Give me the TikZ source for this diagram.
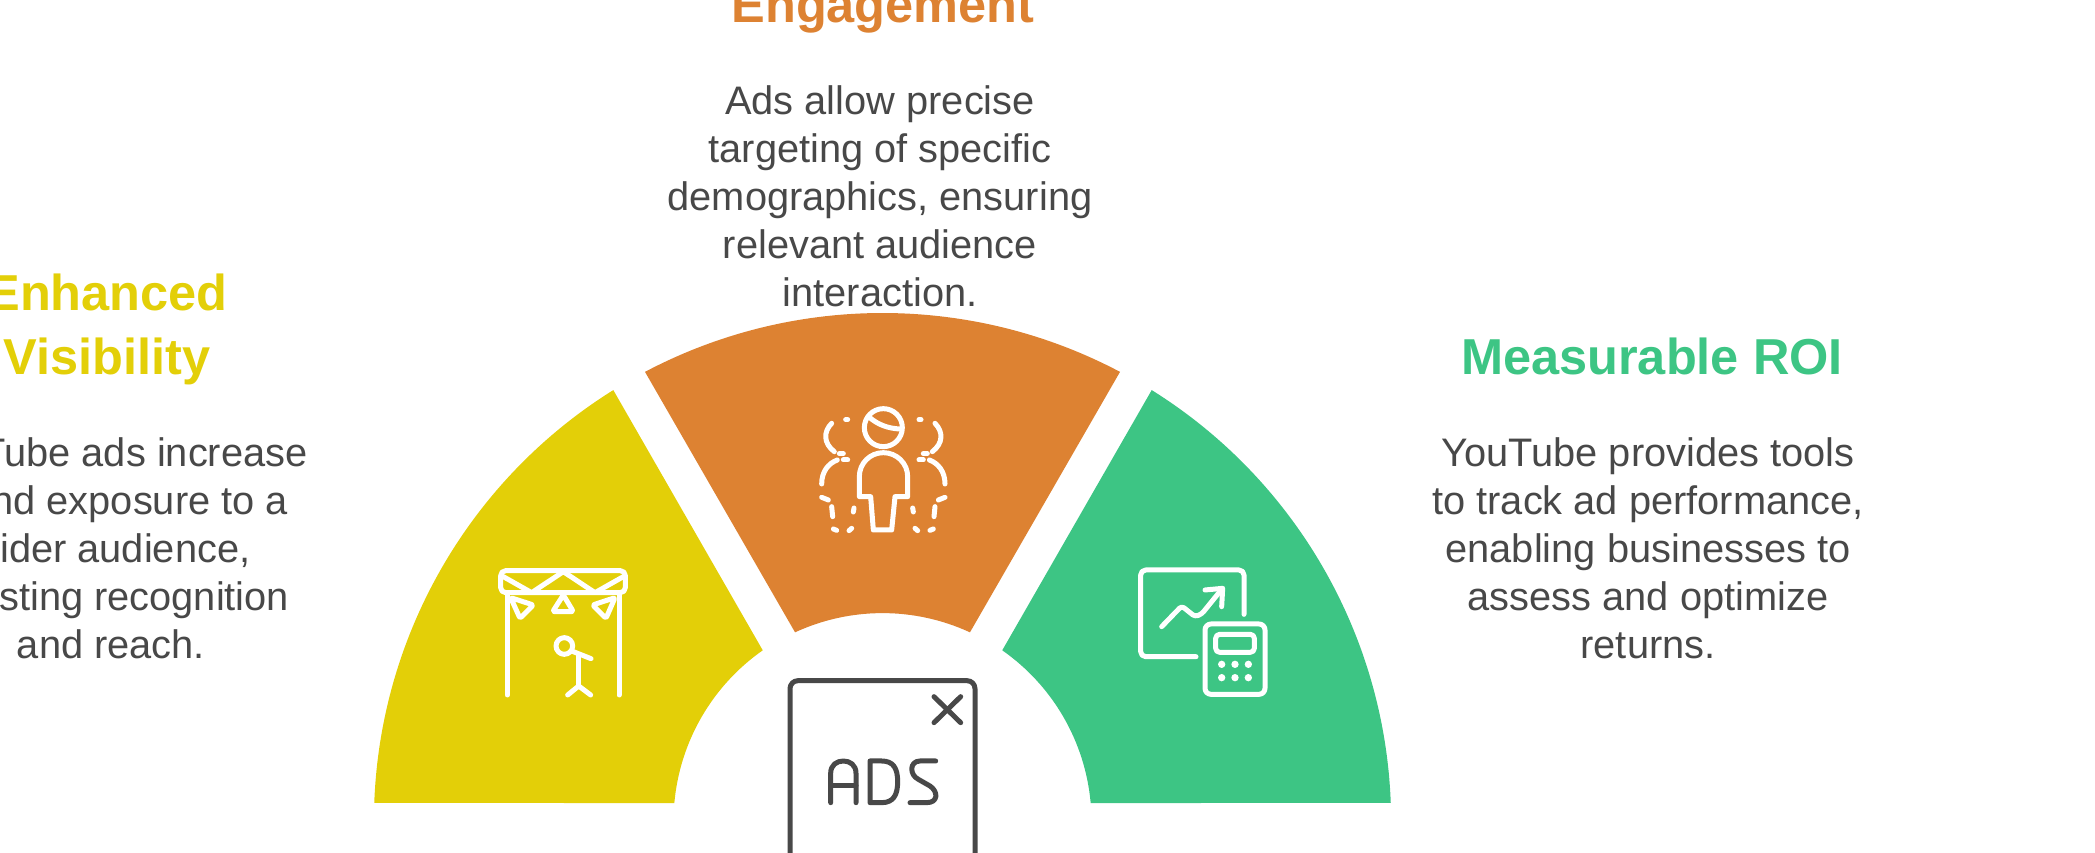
\documentclass[tikz,border=0pt]{standalone}
\usepackage{fontspec}
\setmainfont{Liberation Sans}
\definecolor{cyel}{HTML}{E3CF08}
\definecolor{cora}{HTML}{DD8232}
\definecolor{cgrn}{HTML}{3DC584}
\definecolor{ctxt}{HTML}{484848}
\tikzset{
  ico/.style={draw=white,line width=5pt,line cap=round,line join=round},
  adsico/.style={draw=ctxt,line width=5pt,line cap=round,line join=round},
  bodytxt/.style={text=ctxt,align=center,inner sep=0pt,font=\fontsize{39.8}{48}\selectfont},
  headtxt/.style={align=center,inner sep=0pt,font=\fontsize{50.5}{64}\selectfont\bfseries},
}
\newcommand{\orangehalf}{
  \draw[ico] (197,119)--(203,119);
  \draw[ico] (155,130) .. controls (130,155) and (130,190) .. (163,215);
  \draw[ico] (178,221)--(190,221);
  \draw[ico] (190,240)--(203,240);
  \draw[ico] (172,240) .. controls (145,250) and (125,275) .. (125,312);
  \draw[ico] (125,352)--(145,360);
  \draw[ico] (155,380)--(158,410);
  \draw[ico] (222,384)--(220,396);
  \draw[ico] (160,447)--(170,451);
  \draw[ico] (215,445)--(207,452);
}
\begin{document}
\begin{tikzpicture}[x=1pt,y=1pt]
\useasboundingbox (0,0) rectangle (2095,853);
\clip (0,0) rectangle (2095,853);
% wedges
\begin{scope}[shift={(882.5,31.4)}]
  \fill[cyel] (177.9:508.6) arc[start angle=177.9,end angle=121.96,radius=508.6] -- (124.96:209) arc[start angle=124.96,end angle=174.9,radius=209] -- cycle;
  \fill[cora] (117.84:508.6) arc[start angle=117.84,end angle=62.16,radius=508.6] -- (65.2:208.5) arc[start angle=65.2,end angle=114.8,radius=208.5] -- cycle;
  \fill[cgrn] (2.1:508.6) arc[start angle=2.1,end angle=58.04,radius=508.6] -- (55.04:209) arc[start angle=55.04,end angle=5.1,radius=209] -- cycle;
\end{scope}
% orange icon
\begin{scope}[shift={(780,473)},yscale=-1,scale=1/3]
  \draw[ico] (310,143) circle[radius=57];
  \draw[ico] (268,112) .. controls (295,135) and (325,145) .. (358,147);
  \draw[ico] (238,350) -- (238,290) .. controls (238,250) and (270,218) .. (310,218) .. controls (350,218) and (383,250) .. (383,290) -- (383,350) -- (345,350) -- (335,450) -- (280,450) -- (272,350) -- cycle;
  \orangehalf
  \begin{scope}[shift={(620,0)},xscale=-1]
    \orangehalf
  \end{scope}
\end{scope}
% yellow icon
\begin{scope}[shift={(480,303)},yscale=-1,scale=1/3]
  \draw[ico,rounded corners=5pt] (62,62) rectangle (436,128);
  \draw[ico] (70,80) -- (155,128) -- (250,65) -- (345,128) -- (430,80);
  \draw[ico] (82,128) -- (82,435);
  \draw[ico] (417,128) -- (417,435);
  \draw[ico,rounded corners=2pt] (92,143) -- (160,165) -- (120,205) -- cycle;
  \draw[ico,rounded corners=2pt] (250,135) -- (280,185) -- (218,185) -- cycle;
  \draw[ico,rounded corners=2pt] (405,143) -- (338,165) -- (378,205) -- cycle;
  \draw[ico] (253,288) circle[radius=25];
  \draw[ico] (280,305) -- (333,326);
  \draw[ico] (296,315) -- (296,405);
  \draw[ico] (263,435) -- (296,408) -- (332,435);
\end{scope}
% green icon
\begin{scope}[shift={(1120,303)},yscale=-1,scale=1/3]
  \draw[ico,rounded corners=5pt] (228,320) -- (62,320) -- (62,60) -- (372,60) -- (372,193);
  \draw[ico,rounded corners=3pt] (125,230) -- (185,168) -- (225,200) -- (245,192) -- (305,118);
  \draw[ico] (255,120) -- (308,115) -- (305,170);
  \draw[ico,rounded corners=6pt] (255,222) rectangle (435,433);
  \draw[ico,rounded corners=4pt] (287,253) rectangle (403,307);
  \foreach \px in {305,345,385}{
    \fill[white] (\px,343) circle[radius=11];
    \fill[white] (\px,383) circle[radius=11];
  }
\end{scope}
% ads icon
\begin{scope}[shift={(770,193)},yscale=-1,scale=1/3]
  \draw[adsico,rounded corners=8pt] (60,640) -- (60,62) -- (615,62) -- (615,640);
  \draw[adsico] (492,110) -- (572,188);
  \draw[adsico] (572,110) -- (492,188);
  \draw[adsico] (182,428) -- (182,340) .. controls (182,315) and (200,303) .. (220,303) .. controls (240,303) and (258,315) .. (258,340) -- (258,428);
  \draw[adsico] (182,378) -- (258,378);
  \draw[adsico] (300,303) -- (300,428) -- (335,428) .. controls (370,428) and (383,405) .. (383,365) .. controls (383,325) and (370,303) .. (335,303) -- cycle;
  \draw[adsico] (497,303) -- (450,303) .. controls (418,303) and (418,345) .. (445,358) -- (480,378) .. controls (505,395) and (505,428) .. (470,428) -- (420,428);
\end{scope}
% texts
\node[headtxt,text=cora] (h2) at (883,843) {Engagement};
\node[bodytxt] (b2) at (880,656.5) {Ads allow precise\\targeting of specific\\demographics, ensuring\\relevant audience\\interaction.};
\node[headtxt,text=cyel] (h1) at (107,523.5) {Enhanced\\Visibility};
\node[bodytxt] (b1) at (111,304.5) {YouTube ads increase\\brand exposure to a\\wider audience,\\boosting recognition\\and reach.};
\node[headtxt,text=cgrn] (h3) at (1652,496.5) {Measurable ROI};
\node[bodytxt] (b3) at (1648,304.5) {YouTube provides tools\\to track ad performance,\\enabling businesses to\\assess and optimize\\returns.};
\end{tikzpicture}
\end{document}
